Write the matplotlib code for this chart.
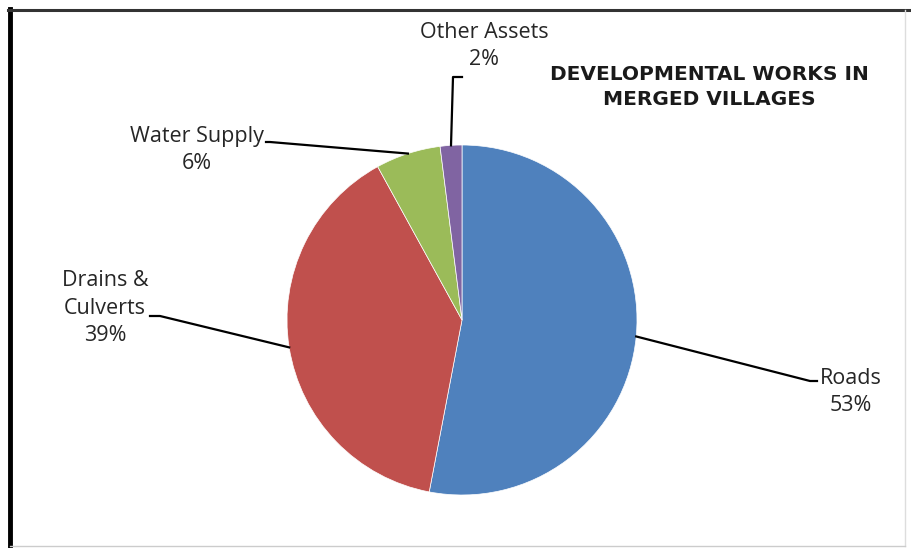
import matplotlib.pyplot as plt
import numpy as np
from matplotlib.lines import Line2D

# data
categories = ["Roads", "Drains &\nCulverts", "Water Supply", "Other Assets"]
shares = [53, 39, 6, 2]
pct_labels = ["53%", "39%", "6%", "2%"]
colors = ["#4F81BD", "#C0504D", "#9BBB59", "#8064A2"]

W, H = 911, 548
CX, CY, R = 462, H - 320, 175

# label layout (pixel coords, y measured up): elbow point, end of elbow, text centre
elbows = [(810, H - 381), (160, H - 316), (270, H - 142), (453, H - 77)]
elbow_ends = [(817, H - 381), (150, H - 316), (266, H - 142), (462, H - 77)]
text_pos = [(851, H - 392), (105, H - 308), (197, H - 150), (484, H - 46)]

plt.rcParams["font.family"] = ["Open Sans", "DejaVu Sans"]

fig = plt.figure(figsize=(W / 100, H / 100), dpi=100)
ax = fig.add_axes([0, 0, 1, 1])

wedges, _ = ax.pie(shares, colors=colors, startangle=90, counterclock=False,
                   center=(CX, CY), radius=R,
                   wedgeprops=dict(linewidth=0.5, edgecolor="white"))
ax.set_xlim(0, W)
ax.set_ylim(0, H)
ax.set_aspect("equal")
ax.axis("off")

for i, w in enumerate(wedges):
    mid = np.deg2rad((w.theta1 + w.theta2) / 2)
    x0 = CX + R * np.cos(mid)
    y0 = CY + R * np.sin(mid)
    ex, ey = elbows[i]
    fx, fy = elbow_ends[i]
    ax.plot([x0, ex, fx], [y0, ey, fy], color="black", lw=1.6)
    tx, ty = text_pos[i]
    ax.text(tx, ty, categories[i] + "\n" + pct_labels[i], ha="center", va="center",
            fontsize=15.5, color="#262626", linespacing=1.4)

ax.text(709, H - 87, "DEVELOPMENTAL WORKS IN\nMERGED VILLAGES", ha="center",
        va="center", fontsize=14.5, fontweight="bold", color="#1a1a1a",
        family=["DejaVu Sans"], linespacing=1.42)

# frame around chart
fig.add_artist(Line2D([10 / W, 10 / W], [0, 1 - 9 / H], transform=fig.transFigure,
                      color="black", lw=3.5))
fig.add_artist(Line2D([8 / W, 1], [1 - 9.5 / H, 1 - 9.5 / H], transform=fig.transFigure,
                      color="#333333", lw=2.2))
fig.add_artist(Line2D([905 / W, 905 / W], [2 / H, 1 - 10 / H], transform=fig.transFigure,
                      color="#dddddd", lw=1))
fig.add_artist(Line2D([10 / W, 905 / W], [2 / H, 2 / H], transform=fig.transFigure,
                      color="#cccccc", lw=1))

fig.savefig("out.png", dpi=100, facecolor="white")
